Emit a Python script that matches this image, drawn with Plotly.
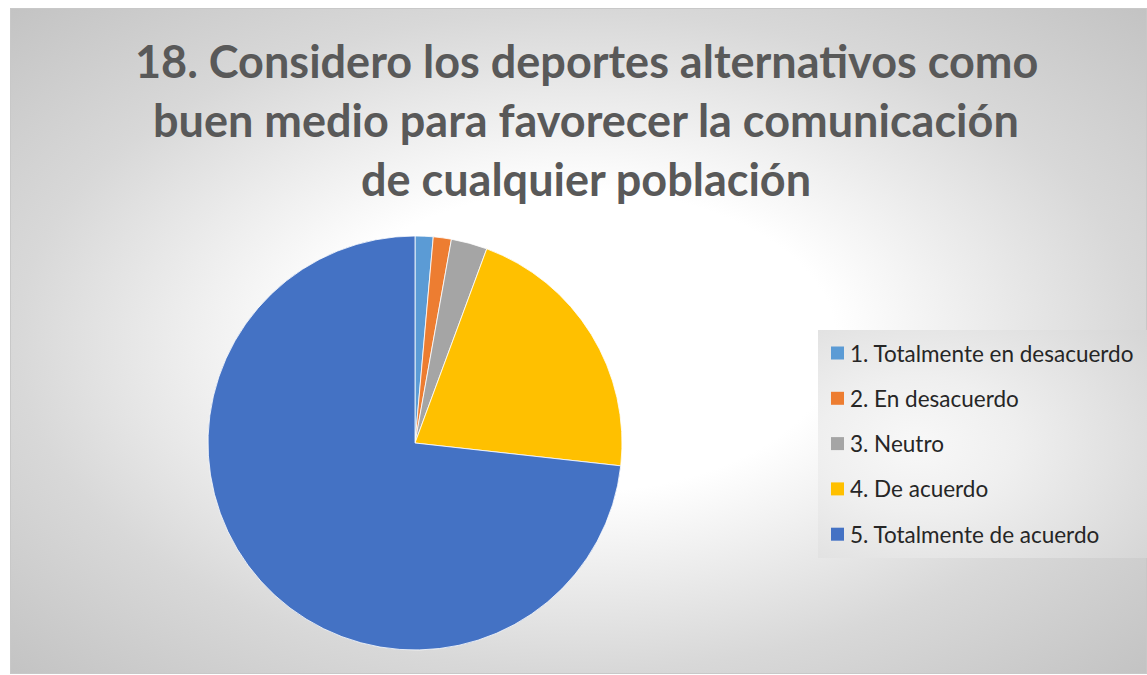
import base64
import plotly.graph_objects as go

# ---- data ----
categories = [
    "1. Totalmente en desacuerdo",
    "2. En desacuerdo",
    "3. Neutro",
    "4. De acuerdo",
    "5. Totalmente de acuerdo",
]
values = [1, 1, 2, 15, 52]
colors = ["#5B9BD5", "#ED7D31", "#A5A5A5", "#FFC000", "#4472C4"]
title_lines = [
    "18. Considero los deportes alternativos como",
    "buen medio para favorecer la comunicación",
    "de cualquier población",
]

W, H = 1147, 675


def svg_uri(svg):
    return "data:image/svg+xml;base64," + base64.b64encode(svg.encode()).decode()


bg_svg = (
    '<svg xmlns="http://www.w3.org/2000/svg" width="1137" height="666" preserveAspectRatio="none">'
    '<defs><radialGradient id="g" cx="0.5" cy="0.5" r="0.707">'
    '<stop offset="0" stop-color="#ffffff"/>'
    '<stop offset="0.32" stop-color="#ffffff"/>'
    '<stop offset="0.7" stop-color="#d8d8d8"/>'
    '<stop offset="1" stop-color="#c3c3c3"/>'
    '</radialGradient></defs>'
    '<rect x="0" y="0" width="1137" height="666" fill="url(#g)" stroke="#c8c8c8" stroke-width="2"/>'
    '</svg>'
)
leg_svg = (
    '<svg xmlns="http://www.w3.org/2000/svg" width="330" height="228" preserveAspectRatio="none">'
    '<defs><radialGradient id="h" cx="0.3" cy="0.5" r="0.85">'
    '<stop offset="0" stop-color="#f8f8f8"/>'
    '<stop offset="0.35" stop-color="#efefef"/>'
    '<stop offset="1" stop-color="#d6d6d6"/>'
    '</radialGradient></defs>'
    '<rect x="0" y="0" width="330" height="228" fill="url(#h)"/>'
    '</svg>'
)

fig = go.Figure()
fig.add_trace(
    go.Pie(
        labels=categories,
        values=values,
        marker=dict(colors=colors, line=dict(color="#ffffff", width=0.8)),
        sort=False,
        direction="clockwise",
        rotation=0,
        textinfo="none",
        hoverinfo="label+value+percent",
        domain=dict(x=[(415 - 207) / W, (415 + 207) / W], y=[(675 - 443 - 207) / H, (675 - 443 + 207) / H]),
        showlegend=False,
    )
)

images = [
    dict(source=svg_uri(bg_svg), xref="paper", yref="paper", x=10 / W, y=1 - 8 / H,
         sizex=1137 / W, sizey=666 / H, sizing="stretch", layer="below", xanchor="left", yanchor="top"),
    dict(source=svg_uri(leg_svg), xref="paper", yref="paper", x=818 / W, y=1 - 330 / H,
         sizex=330 / W, sizey=228 / H, sizing="stretch", layer="below", xanchor="left", yanchor="top"),
]

annotations = []
title_y = [61, 120, 179]
for line, yy in zip(title_lines, title_y):
    annotations.append(dict(
        text=line, xref="paper", yref="paper", x=586 / W, y=1 - yy / H,
        xanchor="center", yanchor="middle", showarrow=False,
        font=dict(family="Lato", size=45, color="#595959", weight="bold"),
    ))

shapes = []
row0, gap = 353, 45.3
for i, (lab, col) in enumerate(zip(categories, colors)):
    yc = row0 + i * gap
    shapes.append(dict(type="rect", xref="paper", yref="paper",
                       x0=831 / W, x1=844 / W, y0=1 - (yc - 6.5) / H, y1=1 - (yc + 6.5) / H,
                       fillcolor=col, line=dict(width=0)))
    annotations.append(dict(
        text=lab, xref="paper", yref="paper", x=848 / W, y=1 - yc / H,
        xanchor="left", yanchor="middle", showarrow=False,
        font=dict(family="Lato", size=22.5, color="#262626"),
    ))

fig.update_layout(
    width=W, height=H,
    margin=dict(l=0, r=0, t=0, b=0),
    paper_bgcolor="#ffffff",
    plot_bgcolor="rgba(0,0,0,0)",
    images=images,
    annotations=annotations,
    shapes=shapes,
    showlegend=False,
)

fig.write_html("out.html")
